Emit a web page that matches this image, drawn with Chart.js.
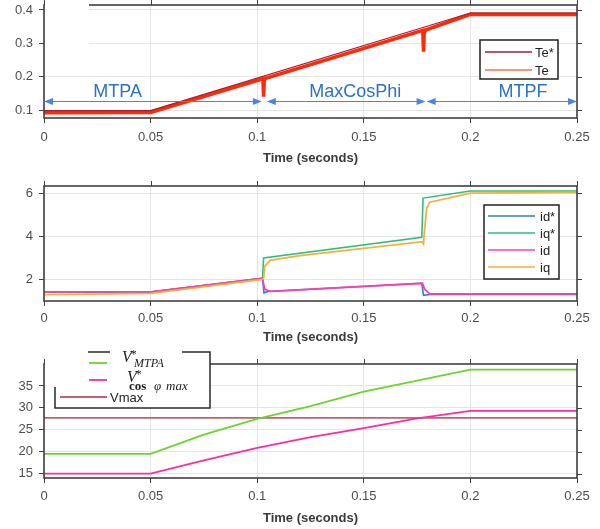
<!DOCTYPE html>
<html>
<head>
<meta charset="utf-8">
<script src="https://cdn.jsdelivr.net/npm/chart.js@4.4.1/dist/chart.umd.min.js"></script>
<style>
  html, body { margin: 0; padding: 0; background: #fff; }
  body { width: 600px; height: 529px; position: relative; overflow: hidden; }
  canvas { position: absolute; left: 0; }
</style>
</head>
<body>
<canvas id="torqueChart" width="600" height="170" style="top:0px"></canvas>
<canvas id="currentChart" width="600" height="180" style="top:170px"></canvas>
<canvas id="voltageChart" width="600" height="179" style="top:350px"></canvas>
<script>
// shared time axis
const xTicks = [0, 0.05, 0.1, 0.15, 0.2, 0.25];
const xTickLabels = ['0', '0.05', '0.1', '0.15', '0.2', '0.25'];

// torque
const teRefTime = [0, 0.05, 0.2, 0.25];
const teRef = [0.098, 0.098, 0.391, 0.391];
const teTime = [0, 0.05, 0.1027, 0.103, 0.1033, 0.104, 0.1777, 0.178, 0.1783, 0.179, 0.2, 0.25];
const te = [0.092, 0.093, 0.194, 0.14, 0.19, 0.195, 0.339, 0.275, 0.33, 0.34, 0.387, 0.387];
const torqueTicks = [0.1, 0.2, 0.3, 0.4];
const torqueTickLabels = ['0.1', '0.2', '0.3', '0.4'];

const phaseNames = ['MTPA', 'MaxCosPhi', 'MTPF'];
const phaseStart = [0, 0.1045, 0.1795];
const phaseEnd = [0.1022, 0.179, 0.25];
const phaseTextX = [0.0345, 0.146, 0.2247];
const phaseArrowLevel = 0.127;
const phaseTextLevel = 0.155;

// currents
const idRefTime = [0, 0.05, 0.1025, 0.1032, 0.105, 0.1772, 0.178, 0.181, 0.25];
const idRef = [1.42, 1.42, 2.05, 1.38, 1.44, 1.82, 1.26, 1.3, 1.3];
const iqRefTime = [0, 0.05, 0.1025, 0.103, 0.1772, 0.1778, 0.2, 0.25];
const iqRef = [1.42, 1.42, 2.05, 3.0, 3.95, 5.77, 6.1, 6.1];
const idTime = [0, 0.05, 0.1025, 0.1035, 0.106, 0.1775, 0.1785, 0.181, 0.25];
const id = [1.42, 1.42, 2.05, 1.55, 1.45, 1.82, 1.55, 1.33, 1.33];
const iqTime = [0, 0.05, 0.1025, 0.103, 0.1035, 0.106, 0.12, 0.1775, 0.178, 0.1785, 0.1795, 0.181, 0.2, 0.25];
const iq = [1.3, 1.35, 2.0, 2.05, 2.6, 2.88, 3.1, 3.75, 3.65, 4.3, 5.3, 5.58, 6.0, 6.03];
const currentTicks = [2, 4, 6];
const currentTickLabels = ['2', '4', '6'];

// voltages
const vTime = [0, 0.05, 0.075, 0.1, 0.125, 0.15, 0.175, 0.2, 0.25];
const vMtpa = [19.5, 19.5, 23.9, 27.5, 30.4, 33.7, 36.2, 38.7, 38.7];
const vCos = [15, 15, 18.0, 20.85, 23.3, 25.4, 27.6, 29.3, 29.3];
const vMaxTime = [0, 0.25];
const vMax = [27.7, 27.7];
const voltageTicks = [15, 20, 25, 30, 35];
const voltageTickLabels = ['15', '20', '25', '30', '35'];

const sans = '"Liberation Sans", Arial, sans-serif';
const serif = '"Liberation Serif", "DejaVu Serif", serif';

const pts = (ts, vs) => ts.map((t, i) => ({ x: t, y: vs[i] }));

const framePlugin = {
  id: 'frame',
  afterDatasetsDraw(chart) {
    const { ctx, chartArea: a, scales } = chart;
    ctx.save();
    ctx.strokeStyle = '#404040';
    ctx.lineWidth = 1;
    ctx.beginPath();
    scales.x.ticks.forEach(t => {
      const px = Math.round(scales.x.getPixelForValue(t.value)) + 0.5;
      ctx.moveTo(px, a.top);
      ctx.lineTo(px, a.top - 5);
    });
    scales.y.ticks.forEach(t => {
      const py = Math.round(scales.y.getPixelForValue(t.value)) + 0.5;
      ctx.moveTo(a.right, py);
      ctx.lineTo(a.right + 5, py);
    });
    ctx.stroke();
    ctx.lineWidth = 1.6;
    ctx.strokeRect(a.left, a.top, a.right - a.left, a.bottom - a.top);
    ctx.restore();
  }
};

const boxLegend = {
  id: 'boxLegend',
  afterDraw(chart, args, opts) {
    if (!opts.items) return;
    const { ctx } = chart;
    const [bx0, by0, bx1, by1] = opts.box;
    ctx.save();
    ctx.fillStyle = '#fff';
    ctx.fillRect(bx0, by0, bx1 - bx0, by1 - by0);
    ctx.strokeStyle = '#222';
    ctx.lineWidth = 1.5;
    ctx.strokeRect(bx0, by0, bx1 - bx0, by1 - by0);
    ctx.font = '13px ' + sans;
    ctx.textBaseline = 'middle';
    ctx.textAlign = 'left';
    opts.items.forEach((it, i) => {
      ctx.strokeStyle = it.color;
      ctx.lineWidth = 1.6;
      ctx.beginPath();
      ctx.moveTo(opts.lineX[0], it.y);
      ctx.lineTo(opts.lineX[1], it.y);
      ctx.stroke();
      ctx.fillStyle = '#222';
      ctx.fillText(chart.data.datasets[i].label, opts.textX, it.y + 1);
    });
    ctx.restore();
  }
};

Chart.register(framePlugin, boxLegend);

function options(o) {
  return {
    responsive: false,
    animation: false,
    devicePixelRatio: 1,
    layout: { padding: { top: o.top, right: 23, left: 0, bottom: 0 } },
    elements: { point: { radius: 0 }, line: { tension: 0 } },
    plugins: {
      legend: { display: false },
      tooltip: { enabled: false },
      boxLegend: o.legend || {}
    },
    scales: {
      x: {
        type: 'linear',
        min: 0,
        max: 0.25,
        afterBuildTicks: s => { s.ticks = xTicks.map(v => ({ value: v })); },
        afterFit: s => { s.height = o.xHeight; s.paddingLeft = 0; s.paddingRight = 0; },
        ticks: {
          padding: o.tickPad,
          autoSkip: false,
          maxRotation: 0,
          color: '#4d4d4d',
          font: { family: sans, size: 13 },
          callback: (v, i) => xTickLabels[i]
        },
        grid: { color: '#e4e4e4', tickColor: '#404040', tickLength: 5 },
        border: { display: false },
        title: {
          display: true,
          text: 'Time (seconds)',
          color: '#3a3a3a',
          font: { family: sans, size: 13, weight: 'bold' },
          padding: { top: 0, bottom: o.titlePad }
        }
      },
      y: {
        min: o.yMin,
        max: o.yMax,
        afterBuildTicks: s => { s.ticks = o.yTicks.map(v => ({ value: v })); },
        afterFit: s => { s.width = 44; s.paddingTop = 0; s.paddingBottom = 0; },
        ticks: {
          padding: 6,
          color: '#4d4d4d',
          font: { family: sans, size: 13 },
          callback: (v, i) => o.yLabels[i]
        },
        grid: { color: '#e4e4e4', tickColor: '#404040', tickLength: 5 },
        border: { display: false }
      }
    }
  };
}

function arrowHead(ctx, tipX, y, dir) {
  ctx.beginPath();
  ctx.moveTo(tipX, y);
  ctx.lineTo(tipX + dir * 9, y - 3.5);
  ctx.lineTo(tipX + dir * 9, y + 3.5);
  ctx.closePath();
  ctx.fill();
}

const phasePlugin = {
  id: 'phases',
  afterDraw(chart) {
    const { ctx, scales: { x, y } } = chart;
    const yA = Math.round(y.getPixelForValue(phaseArrowLevel)) + 0.5;
    const yT = y.getPixelForValue(phaseTextLevel);
    ctx.save();
    // white patch over the top-left corner, as in the original figure
    ctx.fillStyle = '#fff';
    ctx.fillRect(45, 0, 44, 45);
    phaseNames.forEach((name, i) => {
      const x0 = x.getPixelForValue(phaseStart[i]);
      const x1 = x.getPixelForValue(phaseEnd[i]);
      ctx.strokeStyle = '#4d84da';
      ctx.fillStyle = '#4d84da';
      ctx.lineWidth = 1;
      ctx.beginPath();
      ctx.moveTo(x0 + 4, yA);
      ctx.lineTo(x1 - 4, yA);
      ctx.stroke();
      arrowHead(ctx, x0, yA, 1);
      arrowHead(ctx, x1, yA, -1);
      ctx.fillStyle = '#2a72c6';
      ctx.font = '18px ' + sans;
      ctx.textAlign = 'center';
      ctx.textBaseline = 'middle';
      ctx.fillText(name, x.getPixelForValue(phaseTextX[i]), yT);
    });
    ctx.restore();
  }
};

new Chart(document.getElementById('torqueChart'), {
  type: 'line',
  data: {
    datasets: [
      { label: 'Te*', data: pts(teRefTime, teRef), borderColor: '#9e1f35', borderWidth: 1.2 },
      { label: 'Te', data: pts(teTime, te), borderColor: '#ff2a08', borderWidth: 3.6 }
    ]
  },
  options: options({
    top: 5, xHeight: 52, tickPad: 7, titlePad: 4.2,
    yMin: 0.076, yMax: 0.415, yTicks: torqueTicks, yLabels: torqueTickLabels,
    legend: {
      box: [480, 40, 558, 79], lineX: [485, 532], textX: 535,
      items: [{ y: 52, color: '#9e1f35' }, { y: 70, color: '#ff6a4c' }]
    }
  }),
  plugins: [phasePlugin]
});

new Chart(document.getElementById('currentChart'), {
  type: 'line',
  data: {
    datasets: [
      { label: 'id*', data: pts(idRefTime, idRef), borderColor: '#2a7fd5', borderWidth: 1.6, order: 3 },
      { label: 'iq*', data: pts(iqRefTime, iqRef), borderColor: '#2dbd80', borderWidth: 1.6, order: 2 },
      { label: 'id', data: pts(idTime, id), borderColor: '#ff3cb4', borderWidth: 1.8, order: 1 },
      { label: 'iq', data: pts(iqTime, iq), borderColor: '#f6b03a', borderWidth: 1.8, order: 0 }
    ]
  },
  options: options({
    top: 16, xHeight: 49, tickPad: 5, titlePad: 5.2,
    yMin: 1, yMax: 6.33, yTicks: currentTicks, yLabels: currentTickLabels,
    legend: {
      box: [484, 35, 559, 109], lineX: [488, 535], textX: 540,
      items: [
        { y: 46, color: '#2a7fd5' },
        { y: 63, color: '#2dbd80' },
        { y: 80, color: '#ff3cb4' },
        { y: 97, color: '#f6b03a' }
      ]
    }
  })
});

// V with a star above and a subscript below, each piece placed by hand
function drawSymbol(ctx, vx, vBase, subParts, subBase) {
  ctx.font = 'italic 16px ' + serif;
  ctx.fillText('V', vx, vBase);
  const w = ctx.measureText('V').width;
  ctx.font = '12px ' + serif;
  ctx.fillText('*', vx + w - 1, vBase - 4);
  subParts.forEach(([text, font, sx]) => {
    ctx.font = font;
    ctx.fillText(text, sx, subBase);
  });
}

const voltageLegend = {
  id: 'voltageLegend',
  afterDraw(chart) {
    const { ctx } = chart;
    ctx.save();
    ctx.fillStyle = '#fff';
    ctx.fillRect(45, 2, 165, 56);
    ctx.strokeStyle = '#2a2a2a';
    ctx.lineWidth = 1.5;
    ctx.beginPath();
    ctx.moveTo(88, 2); ctx.lineTo(110, 2);
    ctx.moveTo(182, 2); ctx.lineTo(210, 2); ctx.lineTo(210, 58); ctx.lineTo(55, 58); ctx.lineTo(55, 37);
    ctx.stroke();
    const ds = chart.data.datasets;
    ctx.lineWidth = 1.8;
    [[89, 107, 13], [89, 107, 30], [60, 107, 47]].forEach(([a, b, y], i) => {
      ctx.strokeStyle = ds[i].borderColor;
      ctx.beginPath(); ctx.moveTo(a, y); ctx.lineTo(b, y); ctx.stroke();
    });
    ctx.fillStyle = '#222';
    ctx.textAlign = 'left';
    ctx.textBaseline = 'alphabetic';
    drawSymbol(ctx, 122, 12, [['MTPA', 'italic 12px ' + serif, 134]], 17);
    drawSymbol(ctx, 127, 32, [
      ['cos', 'bold 13px ' + serif, 129],
      ['φ', 'italic 13px ' + serif, 154],
      ['max', 'italic 13px ' + serif, 166]
    ], 40);
    ctx.font = '13px ' + sans;
    ctx.textBaseline = 'middle';
    ctx.fillText(ds[2].label, 110, 48);
    ctx.restore();
  }
};

new Chart(document.getElementById('voltageChart'), {
  type: 'line',
  data: {
    datasets: [
      { label: 'V*MTPA', data: pts(vTime, vMtpa), borderColor: '#6cd42c', borderWidth: 1.8 },
      { label: 'V*cos φmax', data: pts(vTime, vCos), borderColor: '#ff2aa5', borderWidth: 1.8 },
      { label: 'Vmax', data: pts(vMaxTime, vMax), borderColor: '#c4606e', borderWidth: 1.8 }
    ]
  },
  options: options({
    top: 14, xHeight: 51, tickPad: 6, titlePad: 3.2,
    yMin: 14, yMax: 40, yTicks: voltageTicks, yLabels: voltageTickLabels
  }),
  plugins: [voltageLegend]
});
</script>
</body>
</html>
